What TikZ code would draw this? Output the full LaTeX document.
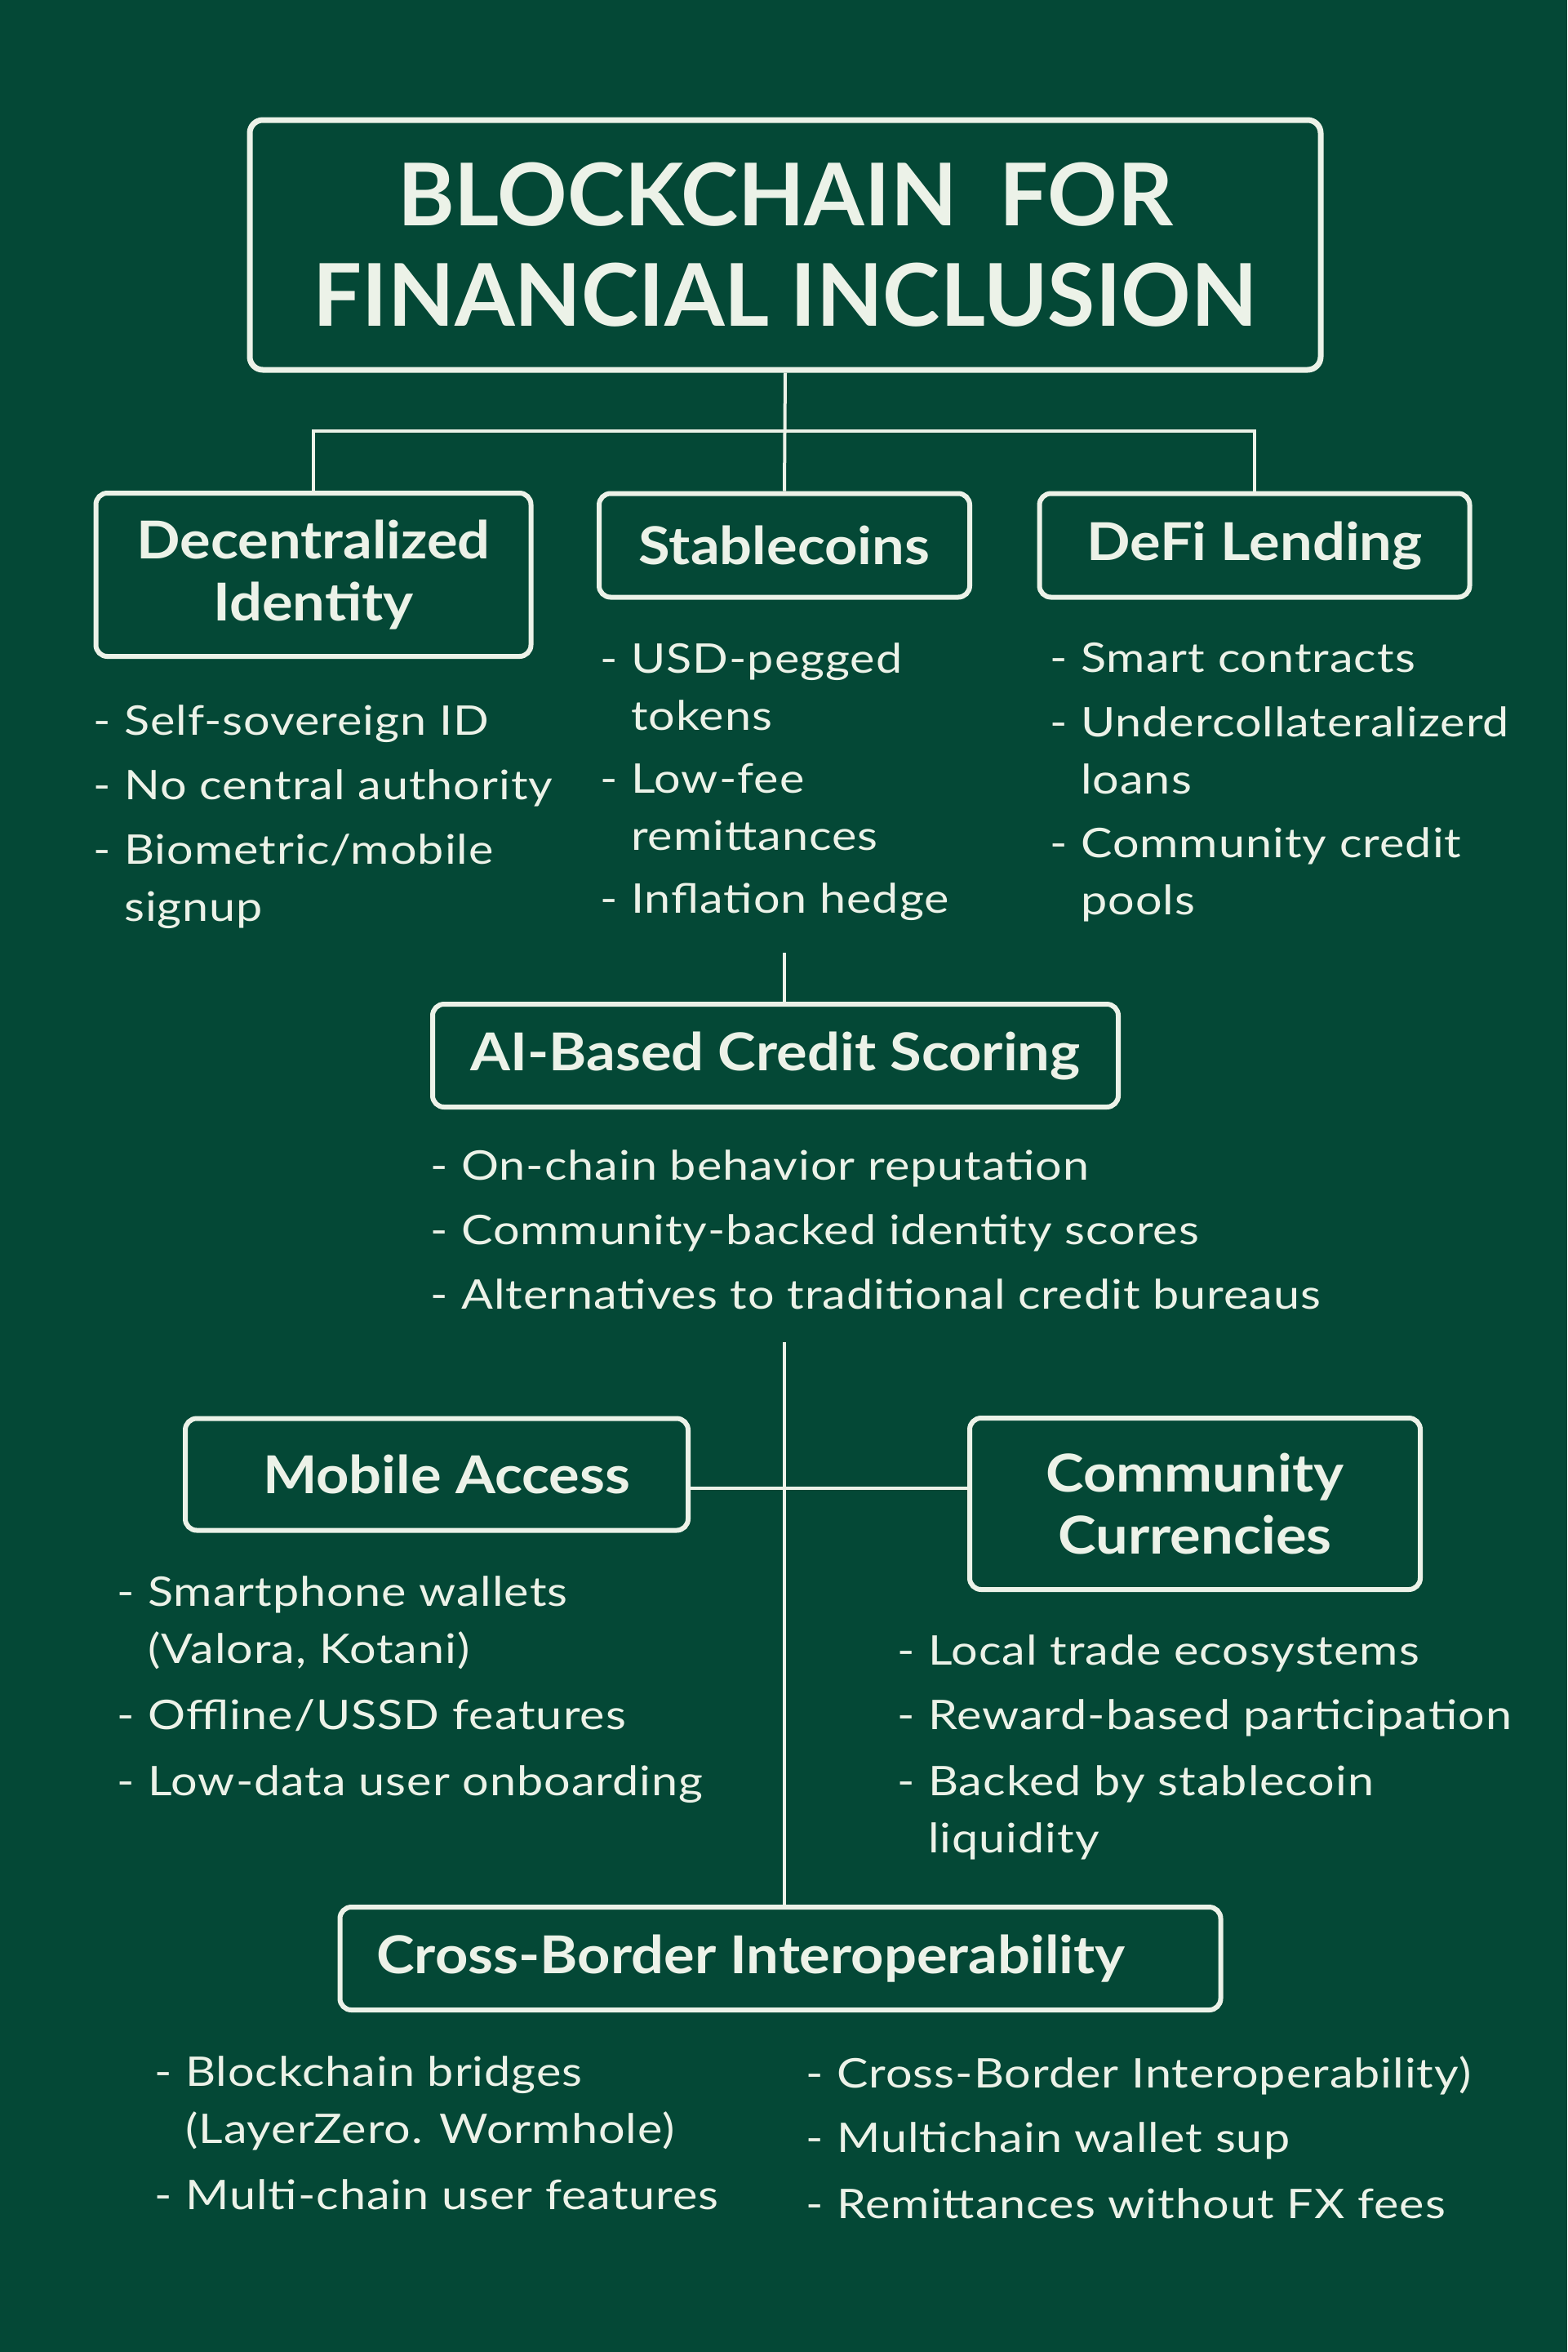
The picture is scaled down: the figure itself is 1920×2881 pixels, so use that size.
\documentclass[tikz,border=0pt]{standalone}
\usepackage{fontspec}
\setmainfont{Lato}
\newfontfamily\headfont{Lato}[FakeStretch=1.1]
\newfontfamily\listfont{Lato}[FakeStretch=1.15, LetterSpace=2]
\usepackage{tikz}
\usetikzlibrary{positioning}
\definecolor{boardgreen}{RGB}{4,72,54}
\definecolor{chalk}{RGB}{236,242,232}
\newcommand{\itm}{\makebox[38pt][l]{-}}
\newcommand{\cnt}{\hspace*{38pt}}

\begin{document}
\begin{tikzpicture}[x=1pt, y=-1pt]
                \tikzstyle{titlebox} = [rectangle, rounded corners=16pt, draw=chalk, line width=7pt, minimum width=1312pt, minimum height=306pt, align=center, text=chalk, font=\fontsize{106}{123}\selectfont\bfseries]
                \tikzstyle{headbox} = [rectangle, rounded corners=14pt, draw=chalk, line width=6pt, align=center, text=chalk, font=\headfont\fontsize{64}{76}\selectfont\bfseries]
                \tikzstyle{itemlist} = [anchor=north west, align=left, inner sep=0pt, text=chalk, font=\listfont\fontsize{50}{70}\selectfont]
                \tikzstyle{link} = [draw=chalk, line width=4pt]

                \useasboundingbox[fill=boardgreen] (0,0) rectangle (1920,2881);

                \node (title) [titlebox] at (962,300) {BLOCKCHAIN \ FOR\\FINANCIAL INCLUSION};
                \node (identity) [headbox, minimum width=533pt, minimum height=200pt] at (384,704) {Decentralized\\Identity};
                \node (stable) [headbox, minimum width=454pt, minimum height=127pt] at (961,668) {Stablecoins};
                \node (defi) [headbox, minimum width=527pt, minimum height=127pt] at (1537,668) {DeFi Lending};
                \node (scoring) [headbox, minimum width=840pt, minimum height=126pt] at (950,1293) {AI-Based Credit Scoring};
                \node (mobile) [headbox, minimum width=616pt, minimum height=137pt] at (535,1806) {\hspace*{24pt}Mobile Access};
                \node (community) [headbox, minimum width=552pt, minimum height=210pt] at (1464,1842) {Community\\Currencies};
                \node (crossborder) [headbox, minimum width=1079pt, minimum height=126pt] at (956,2399) {Cross-Border Interoperability\hspace*{72pt}};

                % bullet lists
                \node (identitylist) [itemlist] at (114,863) {\itm Self-sovereign ID\\[9pt]\itm No central authority\\[9pt]\itm Biometric/mobile\\\cnt signup};
                \node (stablelist) [itemlist] at (735,787) {\itm USD-pegged\\\cnt tokens\\[7pt]\itm Low-fee\\\cnt remittances\\[7pt]\itm Inflation hedge};
                \node (defilist) [itemlist] at (1286,787) {\itm Smart contracts\\[9pt]\itm Undercollateralizerd\\\cnt loans\\[8pt]\itm Community credit\\\cnt pools};
                \node (scoringlist) [itemlist] at (527,1408) {\itm On-chain behavior reputation\\[9pt]\itm Community-backed identity scores\\[9pt]\itm Alternatives to traditional credit bureaus};
                \node (mobilelist) [itemlist] at (143,1930) {\itm Smartphone wallets\\\cnt (Valora, Kotani)\\[11pt]\itm Offline/USSD features\\[11pt]\itm Low-data user onboarding};
                \node (communitylist) [itemlist] at (1099,2002) {\itm Local trade ecosystems\\[9pt]\itm Reward-based participation\\[11pt]\itm Backed by stablecoin\\\cnt liquidity};
                \node (crossleft) [itemlist] at (189,2518) {\itm Blockchain bridges\\\cnt (LayerZero. Wormhole)\\[11pt]\itm Multi-chain user features};
                \node (crossright) [itemlist] at (987,2518) {\itm Cross-Border Interoperability)\\[9pt]\itm Multichain wallet sup\\[11pt]\itm Remittances without FX fees};

                \coordinate (fork) at (961,528);
                \coordinate (stableend) at (961,1167);
                \coordinate (trunktop) at (961,1644);
                \coordinate (hub) at (961,1823);

                \draw [link] (title.south) -- (stable.north);
                \draw [link] (identity.north) |- (fork) -| (defi.north);
                \draw [link] (stableend) -- (stableend |- scoring.north);
                \draw [link] (trunktop) -- (trunktop |- crossborder.north);
                \draw [link] (hub -| mobile.east) -- (hub -| community.west);
            \end{tikzpicture}
\end{document}
